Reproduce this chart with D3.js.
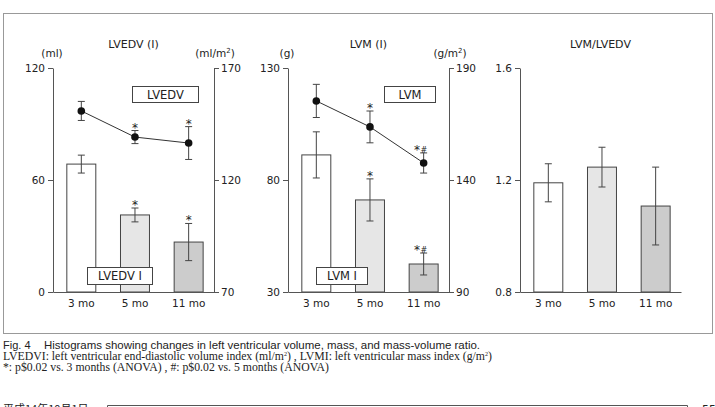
<!DOCTYPE html>
<html>
<head>
    <style>
        body { margin: 0; background: #fff; }
        svg text { font-family: "DejaVu Sans", sans-serif; fill: #222; }
        .tick text { font-size: 10.5px; }
        .axis path, .axis line { stroke: #555; }
        .caption { font-family: "Liberation Sans", sans-serif; font-size: 11px; }
        .caption.serif { font-family: "Liberation Serif", serif; font-size: 11.5px; }
    </style>
    <script src="https://d3js.org/d3.v7.min.js"></script>
</head>
<body>
    <svg width="715" height="407"></svg>
    <script>

        // values
        var months = ["3 mo", "5 mo", "11 mo"];

        var lvedvMean = [97.0, 83.0, 79.8];      // ml, line
        var lvedvErr = [5.1, 3.5, 8.8];
        var lvedviMean = [127.1, 104.4, 92.3];   // ml/m2, bars
        var lvediErr = [4.0, 3.1, 8.3];

        var lvmMean = [115.3, 103.7, 87.6];      // g, line
        var lvmErr = [7.4, 7.1, 4.5];
        var lvmiMean = [151.2, 131.1, 102.5];    // g/m2, bars
        var lvmiErr = [10.3, 9.4, 4.9];

        var ratioMean = [1.19, 1.246, 1.107];
        var ratioErr = [0.068, 0.071, 0.139];

        var lineMarks = [["", "*", "*"], ["", "*", "*#"]];
        var barMarks = [["", "*", "*"], ["", "*", "*#"], ["", "", ""]];

        var leftTicks = [[0, 60, 120], [30, 80, 130], [0.8, 1.2, 1.6]];
        var rightTicks = [[70, 120, 170], [90, 140, 190]];

        var barColors = ["#ffffff", "#e6e6e6", "#cccccc"];

        var svg = d3.select("svg");
        var yTop = 68, yBottom = 292, pw = 161;

        svg.append("rect")
           .attr("x", 3.5).attr("y", 13.5).attr("width", 709).attr("height", 320)
           .attr("fill", "none").attr("stroke", "#999");

        function drawPanel(p) {
            var g = svg.append("g");
            var x = d3.scaleBand().domain(months)
                      .range([p.x0, p.x0 + pw])
                      .paddingInner(0.46).paddingOuter(0.23).align(0.56);
            var yL = d3.scaleLinear().domain(p.left).range([yBottom, yTop]);
            var yR = p.right ? d3.scaleLinear().domain(p.right).range([yBottom, yTop]) : null;
            var yBar = yR || yL;
            var cx = function(d, i) { return x(months[i]) + x.bandwidth() / 2; };

            // bars
            g.selectAll(".bar").data(p.bars).enter().append("rect")
             .attr("x", function(d, i) { return x(months[i]); })
             .attr("y", function(d) { return yBar(d); })
             .attr("width", x.bandwidth())
             .attr("height", function(d) { return yBottom - yBar(d); })
             .attr("fill", function(d, i) { return barColors[i]; })
             .attr("stroke", "#444");

            function errBars(vals, errs, y, cls) {
                var e = g.selectAll("." + cls).data(vals).enter().append("g")
                         .attr("stroke", "#444").attr("class", cls);
                e.append("line")
                 .attr("x1", cx).attr("x2", cx)
                 .attr("y1", function(d, i) { return y(d + errs[i]); })
                 .attr("y2", function(d, i) { return y(d - errs[i]); });
                [1, -1].forEach(function(s) {
                    e.append("line")
                     .attr("x1", function(d, i) { return cx(d, i) - 3.5; })
                     .attr("x2", function(d, i) { return cx(d, i) + 3.5; })
                     .attr("y1", function(d, i) { return y(d + s * errs[i]); })
                     .attr("y2", function(d, i) { return y(d + s * errs[i]); });
                });
            }

            function marks(vals, errs, y, labels) {
                g.selectAll(null).data(vals).enter().append("text")
                 .attr("x", function(d, i) { return cx(d, i) - (labels[i].length > 1 ? 3 : 0); })
                 .attr("y", function(d, i) { return y(d + errs[i]) + 1; })
                 .attr("text-anchor", "middle")
                 .style("font-size", "12px")
                 .each(function(d, i) {
                     var t = d3.select(this);
                     if (!labels[i]) return;
                     t.append("tspan").text("*");
                     if (labels[i].length > 1) {
                         t.append("tspan").text("#").style("font-size", "8px").attr("dx", 0.5).attr("dy", -1);
                     }
                 });
            }

            errBars(p.bars, p.barErr, yBar, "berr");
            marks(p.bars, p.barErr, yBar, p.barMarks);

            // line series
            if (p.line) {
                var line = d3.line().x(cx).y(function(d) { return yL(d); });
                g.append("path").datum(p.line)
                 .attr("d", line).attr("fill", "none").attr("stroke", "#333");
                errBars(p.line, p.lineErr, yL, "lerr");
                g.selectAll(".dot").data(p.line).enter().append("circle")
                 .attr("cx", cx)
                 .attr("cy", function(d) { return yL(d); })
                 .attr("r", 3.8).attr("fill", "#111");
                marks(p.line, p.lineErr, yL, p.lineMarks);
            }

            // axes
            g.append("g").attr("class", "axis")
             .attr("transform", "translate(" + p.x0 + ",0)")
             .call(d3.axisLeft(yL).tickValues(p.leftTicks).tickSize(5).tickSizeOuter(0).tickPadding(3)
                     .tickFormat(d3.format(p.fmt)));
            if (yR) {
                g.append("g").attr("class", "axis")
                 .attr("transform", "translate(" + (p.x0 + pw) + ",0)")
                 .call(d3.axisRight(yR).tickValues(p.rightTicks).tickSize(5).tickSizeOuter(0).tickPadding(2));
            }
            g.append("g").attr("class", "axis")
             .attr("transform", "translate(0," + yBottom + ")")
             .call(d3.axisBottom(x).tickSize(0).tickSizeOuter(0).tickPadding(8))
             .selectAll("text").style("font-size", "10.5px");

            // titles and units
            g.append("text").attr("x", p.x0 + pw / 2).attr("y", 48)
             .attr("text-anchor", "middle").style("font-size", "11px").text(p.title);
            if (p.unitL) {
                g.append("text").attr("x", p.x0 - 1).attr("y", 57)
                 .attr("text-anchor", "middle").style("font-size", "10.5px").text(p.unitL);
                var u = g.append("text").attr("x", p.x0 + pw + 1).attr("y", 57)
                         .attr("text-anchor", "middle").style("font-size", "10.5px");
                u.append("tspan").text(p.unitR);
                u.append("tspan").text("2").style("font-size", "7px").attr("dy", -4);
                u.append("tspan").text(")").attr("dy", 4);
            }

            // label boxes
            (p.boxes || []).forEach(function(b) {
                g.append("rect").attr("x", b.x + 0.5).attr("y", b.y + 0.5)
                 .attr("width", b.w).attr("height", b.h)
                 .attr("fill", "#fff").attr("stroke", "#444");
                g.append("text").attr("x", b.x + b.w / 2 + 0.5).attr("y", b.y + b.h / 2 + 4.5)
                 .attr("text-anchor", "middle").style("font-size", "11.5px").text(b.text);
            });
        }

        drawPanel({
            x0: 53, left: [0, 120], right: [70, 170],
            leftTicks: leftTicks[0], rightTicks: rightTicks[0], fmt: "d",
            bars: lvedviMean, barErr: lvediErr, barMarks: barMarks[0],
            line: lvedvMean, lineErr: lvedvErr, lineMarks: lineMarks[0],
            title: "LVEDV (I)", unitL: "(ml)", unitR: "(ml/m",
            boxes: [{x: 132, y: 86, w: 66, h: 16, text: "LVEDV"},
                    {x: 87, y: 267, w: 65, h: 17, text: "LVEDV I"}]
        });

        drawPanel({
            x0: 288, left: [30, 130], right: [90, 190],
            leftTicks: leftTicks[1], rightTicks: rightTicks[1], fmt: "d",
            bars: lvmiMean, barErr: lvmiErr, barMarks: barMarks[1],
            line: lvmMean, lineErr: lvmErr, lineMarks: lineMarks[1],
            title: "LVM (I)", unitL: "(g)", unitR: "(g/m",
            boxes: [{x: 384, y: 86, w: 51, h: 16, text: "LVM"},
                    {x: 316, y: 267, w: 51, h: 17, text: "LVM I"}]
        });

        drawPanel({
            x0: 520, left: [0.8, 1.6], right: null,
            leftTicks: leftTicks[2], fmt: ".1f",
            bars: ratioMean, barErr: ratioErr, barMarks: barMarks[2],
            title: "LVM/LVEDV"
        });

        // caption
        svg.append("text").attr("class", "caption").attr("x", 3).attr("y", 349).text("Fig. 4");
        svg.append("text").attr("class", "caption").attr("x", 44).attr("y", 349)
           .attr("textLength", 436).attr("lengthAdjust", "spacingAndGlyphs")
           .text("Histograms showing changes in left ventricular volume, mass, and mass-volume ratio.");

        var c2 = svg.append("text").attr("class", "caption serif").attr("x", 3).attr("y", 360)
                    .attr("textLength", 489).attr("lengthAdjust", "spacingAndGlyphs");
        c2.append("tspan").text("LVEDVI: left ventricular end-diastolic volume index (ml/m");
        c2.append("tspan").text("2").style("font-size", "6px").attr("dy", -4);
        c2.append("tspan").text(") , LVMI: left ventricular mass index (g/m").attr("dy", 4);
        c2.append("tspan").text("2").style("font-size", "6px").attr("dy", -4);
        c2.append("tspan").text(")").attr("dy", 4);

        svg.append("text").attr("class", "caption serif").attr("x", 3).attr("y", 371)
           .attr("textLength", 326).attr("lengthAdjust", "spacingAndGlyphs")
           .text("*: p$0.02 vs. 3 months (ANOVA) , #: p$0.02 vs. 5 months (ANOVA)");

        // page footer
        svg.append("text").attr("x", 3).attr("y", 413)
           .style("font-family", "Noto Sans CJK JP").style("font-size", "11px").text("平成14年10月1日");
        svg.append("path").attr("d", "M107.5,410V405.5H687.5V410")
           .attr("fill", "none").attr("stroke", "#555");
        svg.append("text").attr("x", 702).attr("y", 413).style("font-size", "11px").text("55");

    </script>
</body>
</html>
